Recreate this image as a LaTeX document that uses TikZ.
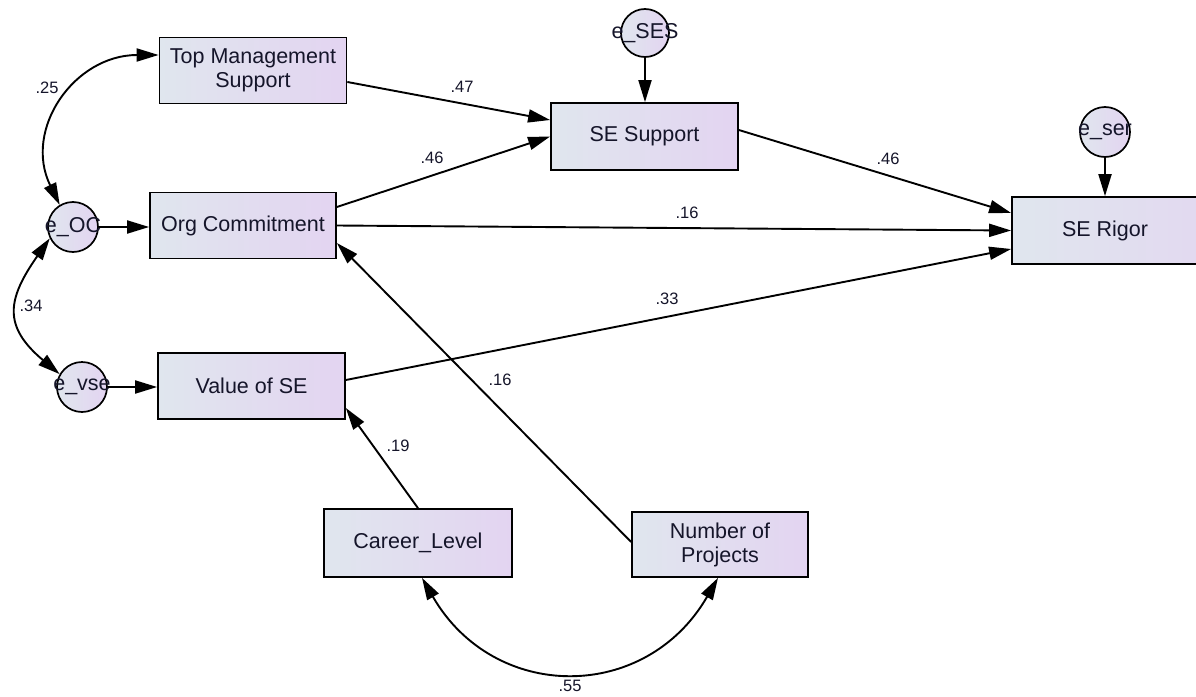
\documentclass[tikz,border=0pt]{standalone}
\usepackage{fontspec}
\setmainfont{Liberation Sans}
\usetikzlibrary{arrows.meta,calc}
\definecolor{txt}{HTML}{15152A}
\definecolor{boxl}{HTML}{E0E6EE}
\definecolor{boxr}{HTML}{E3D4F1}
\begin{document}
\begin{tikzpicture}[x=1pt,y=-1pt,
  var/.style={draw=black, line width=1.7pt, left color=boxl, right color=boxr,
    text=txt, font=\fontsize{21.5}{24}\selectfont, align=center, inner sep=0pt},
  err/.style={circle, draw=black, line width=1.7pt, left color=boxl, right color=boxr,
    minimum size=50pt, inner sep=0pt, text=txt, font=\fontsize{21.5}{24}\selectfont},
  lab/.style={text=txt, font=\fontsize{16.5}{18}\selectfont, inner sep=0pt},
  arr/.style={line width=1.9pt, -{Triangle[length=22pt,width=13pt]}},
  cov/.style={line width=1.9pt, {Triangle[length=22pt,width=13pt]}-{Triangle[length=22pt,width=13pt]}}
]
\useasboundingbox (0,0) rectangle (1196,696);

% observed variables
\node[var, minimum width=187pt, minimum height=66pt] (tms) at (253,70.5) {Top Management\\Support};
\node[var, minimum width=186pt, minimum height=66pt] (oc) at (243,225.5) {Org Commitment};
\node[var, minimum width=187pt, minimum height=66pt] (vse) at (251.5,386) {Value of SE};
\node[var, minimum width=187pt, minimum height=67pt] (ses) at (644.5,136.5) {SE Support};
\node[var, minimum width=266pt, minimum height=67pt] (ser) at (1145,230.5) {\makebox[0pt]{\kern-40pt SE Rigor\kern40pt}};
\node[var, minimum width=188pt, minimum height=68pt] (career) at (418,543) {Career\_Level};
\node[var, minimum width=176pt, minimum height=65pt] (nop) at (720,544.5) {Number of\\Projects};

% error terms
\node[err] (eoc) at (73,227) {\makebox[0pt]{e\_OC}};
\node[err] (evse) at (82,387) {\makebox[0pt]{e\_vse}};
\node[err, minimum size=48pt] (eses) at (645,33) {\makebox[0pt]{e\_SES}};
\node[err] (eser) at (1105,132) {\makebox[0pt]{e\_ser}};

% error paths
\draw[arr] (eoc.east) -- (eoc.east -| oc.west);
\draw[arr] (evse.east) -- (evse.east -| vse.west);
\draw[arr] (eses.south) -- (eses.south |- ses.north);
\draw[arr] (eser.south) -- (eser.south |- ser.north);

% structural paths
\draw[arr] ([yshift=-11.5pt]tms.east) -- ([yshift=16.5pt]ses.west);
\draw[arr] ([yshift=18.5pt]oc.east) -- (ses.west);
\draw[arr] (oc.east) -- (ser.west);
\draw[arr] ([yshift=6.5pt]ses.east) -- ([yshift=17.5pt]ser.west);
\draw[arr] ([yshift=6pt]vse.east) -- ([yshift=-18.5pt]ser.west);
\draw[arr] ([yshift=2.5pt]nop.west) -- ([yshift=-17.5pt]oc.east);
\draw[arr] (career.north) -- ([yshift=-22pt]vse.east);

% covariances
\draw[cov] (eoc.121) to[out=116,in=180,looseness=1.2] ([yshift=15.5pt]tms.west);
\draw[cov] (eoc.206) to[out=235,in=140,looseness=1.4] (evse.150);
\draw[cov] ([xshift=4pt]career.south) to[out=-60,in=-120,looseness=1.25] ([xshift=-2pt]nop.south);

% coefficient labels
\node[lab] (l25) at (47,88) {.25};
\node[lab] (l34) at (31,306) {.34};
\node[lab] (l47) at (462,87) {.47};
\node[lab] (l46a) at (432,158) {.46};
\node[lab] (l46b) at (888,159) {.46};
\node[lab] (l16a) at (687,213) {.16};
\node[lab] (l33) at (667,299) {.33};
\node[lab] (l16b) at (500,380) {.16};
\node[lab] (l19) at (398,446) {.19};
\node[lab] (l55) at (570,686) {.55};
\end{tikzpicture}
\end{document}
